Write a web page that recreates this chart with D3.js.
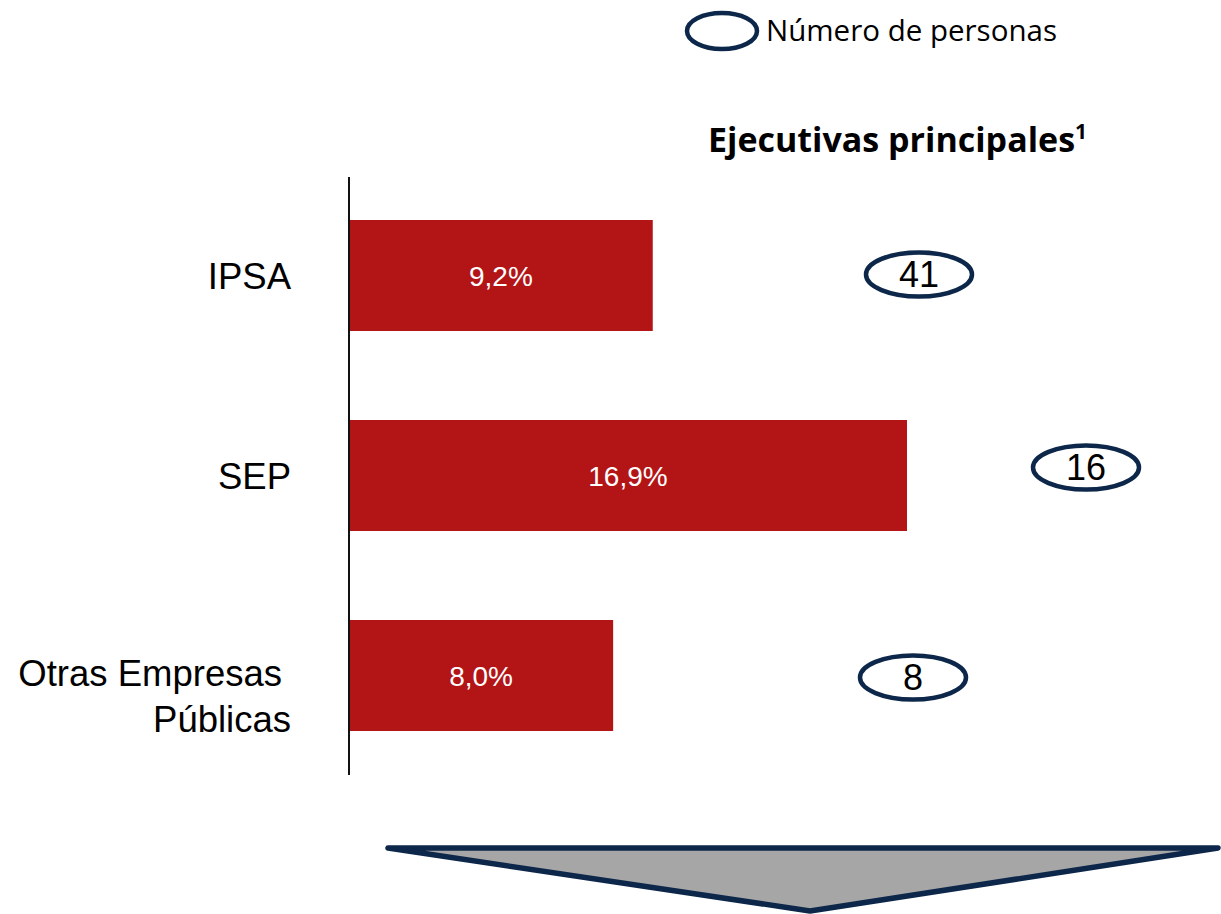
<!DOCTYPE html>
<html>
<head>
<meta charset="utf-8">
<script src="https://cdn.jsdelivr.net/npm/d3@7"></script>
<style>
  body { margin: 0; background: #fff; }
  svg { display: block; }
</style>
</head>
<body>
<div id="chart-area"></div>
<script>
// data
var categories = ["IPSA", "SEP", "Otras Empresas|Públicas"];
var shares = [9.2, 16.9, 8.0];
var share_labels = ["9,2%", "16,9%", "8,0%"];
var persons = [41, 16, 8];
var title = "Ejecutivas principales";
var legend_label = "Número de personas";

var total_width = 1221;
var total_height = 914;

var svg = d3.select('#chart-area').append('svg')
            .attr("width", total_width)
            .attr("height", total_height);

var navy = "#0c2749";
var red = "#b31517";

var x = d3.scaleLinear()
          .domain([0, 16.9])
          .range([349, 907]);

var y = d3.scaleBand()
          .domain(categories)
          .range([175.5, 775.5])
          .paddingInner(0.445)
          .paddingOuter(0.2225);

// bubble centres, placed by hand like the original slide
var bubble_x = [919, 1086, 913];
var bubble_dy = [-1, -8, 2];

// bars
svg.selectAll(".bar")
   .data(shares)
   .enter().append("rect")
   .attr("class", "bar")
   .attr("x", x(0))
   .attr("y", (d, i) => y(categories[i]))
   .attr("width", d => x(d) - x(0))
   .attr("height", y.bandwidth())
   .style("fill", red);

svg.selectAll(".bar-label")
   .data(shares)
   .enter().append("text")
   .attr("class", "bar-label")
   .attr("x", d => (x(0) + x(d)) / 2)
   .attr("y", (d, i) => y(categories[i]) + y.bandwidth() / 2)
   .attr("dy", "0.36em")
   .style("text-anchor", "middle")
   .style("font-family", "Liberation Sans, Arial, sans-serif")
   .style("font-size", "28px")
   .style("fill", "#fff")
   .text((d, i) => share_labels[i]);

// axis line (no ticks)
var yAxis = d3.axisLeft(y).tickSize(0).tickFormat("");
var axis_g = svg.append("g")
   .attr("transform", "translate(" + x(0) + ",0)")
   .call(yAxis);
axis_g.select(".domain")
   .attr("d", "M0,177V775")
   .style("stroke", "#111")
   .style("stroke-width", 2);

// category labels
categories.forEach(function(c, i) {
  var lines = c.split("|");
  var cy = y(c) + y.bandwidth() / 2;
  var t = svg.append("text")
     .style("text-anchor", "end")
     .style("font-family", "Liberation Sans, Arial, sans-serif")
     .style("font-size", "36.5px")
     .style("fill", "#000");
  if (lines.length === 1) {
    t.attr("x", 291).attr("y", cy).attr("dy", "0.36em").text(c);
  } else {
    t.append("tspan").attr("x", 282).attr("y", cy + 10).text(lines[0]);
    t.append("tspan").attr("x", 291).attr("y", cy + 56).text(lines[1]);
  }
});

// person bubbles
persons.forEach(function(p, i) {
  var cy = y(categories[i]) + y.bandwidth() / 2 + bubble_dy[i];
  svg.append("ellipse")
     .attr("cx", bubble_x[i])
     .attr("cy", cy)
     .attr("rx", 53)
     .attr("ry", 22)
     .style("fill", "#fff")
     .style("stroke", navy)
     .style("stroke-width", 4.5);
  svg.append("text")
     .attr("x", bubble_x[i])
     .attr("y", cy)
     .attr("dy", "0.36em")
     .style("text-anchor", "middle")
     .style("font-family", "Liberation Sans, Arial, sans-serif")
     .style("font-size", "36px")
     .style("fill", "#000")
     .text(p);
});

// legend
svg.append("ellipse")
   .attr("cx", 722)
   .attr("cy", 31)
   .attr("rx", 35)
   .attr("ry", 18)
   .style("fill", "#fff")
   .style("stroke", navy)
   .style("stroke-width", 4.5);
svg.append("text")
   .attr("x", 766)
   .attr("y", 41)
   .style("font-family", "Open Sans, Noto Sans, sans-serif")
   .style("font-size", "29.5px")
   .style("fill", "#000")
   .text(legend_label);

// title
var title_t = svg.append("text")
   .attr("x", 708)
   .attr("y", 152)
   .style("font-family", "Open Sans, Noto Sans, sans-serif")
   .style("font-weight", "bold")
   .style("font-size", "34px")
   .style("fill", "#000")
   .text(title);
title_t.append("tspan")
   .attr("dy", -13)
   .style("font-size", "21px")
   .text("1");

// arrow at bottom
svg.append("path")
   .attr("d", "M388,848L1218,848L810,911Z")
   .style("fill", "#a6a6a6")
   .style("stroke", navy)
   .style("stroke-width", 5.5)
   .style("stroke-linejoin", "round");
</script>
</body>
</html>
